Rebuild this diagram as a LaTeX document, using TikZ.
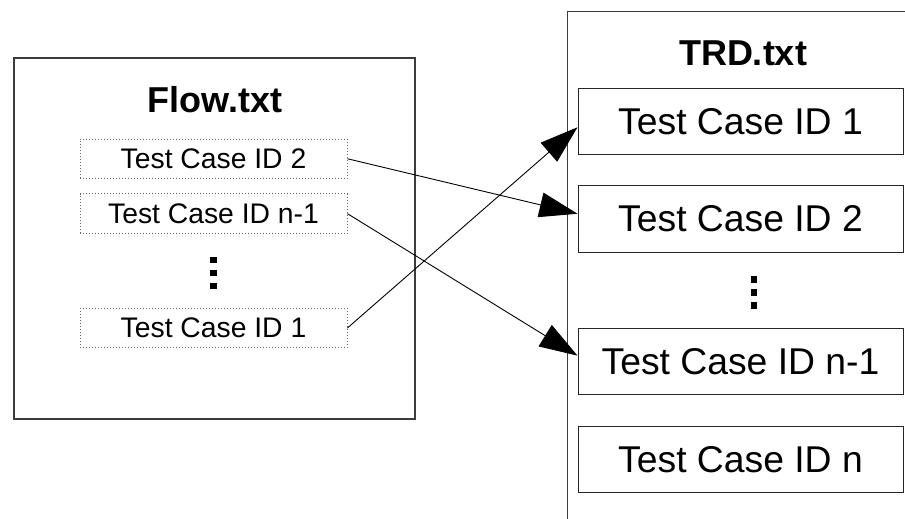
\documentclass[tikz,border=0pt]{standalone}
\usepackage{fontspec}
\setmainfont{Liberation Sans}
\usetikzlibrary{positioning,arrows.meta}
\definecolor{framegray}{RGB}{60,60,60}
\definecolor{dotgray}{RGB}{100,100,100}
\tikzset{
  filebox/.style={draw=framegray,line width=1.2pt,inner sep=0pt},
  ftitle/.style={font=\fontsize{36}{40}\selectfont\bfseries,inner sep=0pt},
  flowitem/.style={draw=dotgray,dash pattern=on 0.9pt off 2.1pt,line width=0.9pt,
                   inner sep=0pt,minimum width=267pt,minimum height=39.5pt,
                   font=\fontsize{28.3}{30}\selectfont},
  trditem/.style={draw=black!85,line width=1pt,inner sep=0pt,
                  minimum width=325pt,minimum height=66.5pt,
                  font=\fontsize{37.3}{40}\selectfont},
  vdotsbox/.style={inner sep=0pt,minimum width=8pt,minimum height=32pt},
  arr/.style={-{Triangle[length=38pt,width=25pt]},line width=0.9pt},
}

\begin{document}
\begin{tikzpicture}[x=1pt,y=-1pt]
  \clip (0,0) rectangle (905,519);
  % Flow.txt
  \node[filebox,minimum width=401pt,minimum height=361pt] (flow) at (214.5,238.5) {};
  \node[ftitle] (flowtitle) at (215,100) {Flow.txt};
  \node[flowitem] (fl2) at (213.5,158.75) {Test Case ID 2};
  \node[flowitem,below=14.5pt of fl2] (flN1) {Test Case ID n-1};
  \node[vdotsbox,below=23pt of flN1] (ldots) {};
  \node[flowitem,below=18.5pt of ldots] (fl1) {Test Case ID 1};
  % TRD.txt
  \node[filebox,anchor=north west,minimum width=400pt,minimum height=560pt] (trd) at (567,11) {};
  \node[ftitle] (trdtitle) at (743,53) {TRD.txt};
  \node[trditem] (trd1) at (740.5,121.25) {Test Case ID 1};
  \node[trditem,below=30pt of trd1] (trd2) {Test Case ID 2};
  \node[vdotsbox,below=24pt of trd2,xshift=13.5pt] (rdots) {};
  \node[trditem,below=19pt of rdots,xshift=-13.5pt] (trd3) {Test Case ID n-1};
  \node[trditem,below=30.5pt of trd3] (trd4) {Test Case ID n};
  % dots
  \foreach \n in {ldots,rdots}
    \foreach \d in {-13,0,13}
      \fill ([yshift=\d pt]\n.center) ++(-3.25pt,-3.25pt) rectangle ++(6.5pt,6.5pt);
  % links
  \draw[arr] (fl2.east) -- ([yshift=5pt]trd2.west);
  \draw[arr] (flN1.east) -- ([yshift=6pt]trd3.west);
  \draw[arr] (fl1.east) -- ([yshift=-6pt]trd1.west);
\end{tikzpicture}
\end{document}
